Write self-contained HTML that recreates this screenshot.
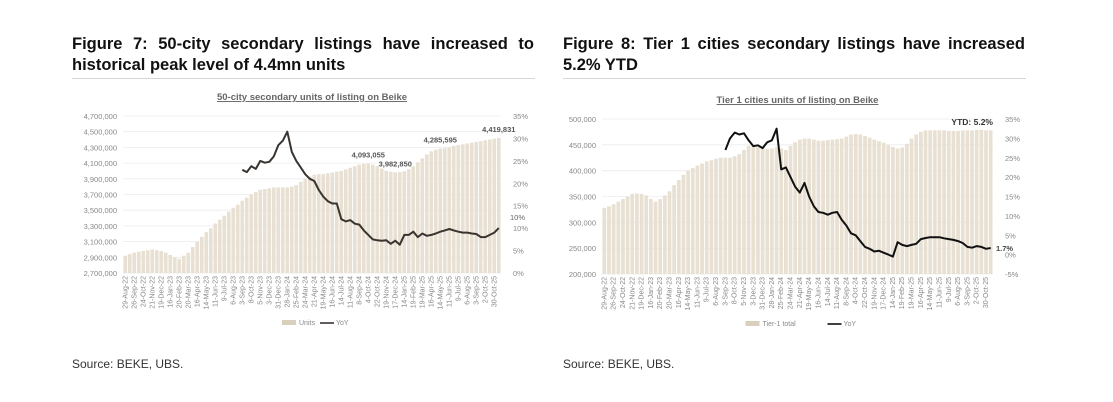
<!DOCTYPE html>
<html><head><meta charset="utf-8"><style>
body{margin:0;background:#fff;font-family:"Liberation Sans",sans-serif;}
#wrap{position:relative;width:1113px;height:402px;overflow:hidden;background:#fff}
.hd{position:absolute;top:34px;width:462px;font-weight:bold;font-size:16.5px;line-height:21px;color:#111;text-align:justify;text-align-last:left}
.rule{position:absolute;top:78px;width:463px;height:1px;background:#d6d6d6}
.src{position:absolute;top:357px;font-size:12px;color:#333}
svg{position:absolute;left:0;top:0}
</style></head><body>
<div id="wrap">
<div class="hd" style="left:72px">Figure 7: 50-city secondary listings have increased to historical peak level of 4.4mn units</div>
<div class="rule" style="left:72px"></div>
<div class="hd" style="left:563px">Figure 8: Tier 1 cities secondary listings have increased 5.2% YTD</div>
<div class="rule" style="left:563px"></div>
<div class="src" style="left:72px">Source: BEKE, UBS.</div>
<div class="src" style="left:563px">Source: BEKE, UBS.</div>
<svg id="svg" width="1113" height="402"></svg>
</div>
<script>
const dateLabels=["29-Aug-22","26-Sep-22","24-Oct-22","21-Nov-22","19-Dec-22","16-Jan-23","20-Feb-23","20-Mar-23","16-Apr-23","14-May-23","11-Jun-23","9-Jul-23","6-Aug-23","3-Sep-23","8-Oct-23","5-Nov-23","3-Dec-23","31-Dec-23","28-Jan-24","25-Feb-24","24-Mar-24","21-Apr-24","19-May-24","16-Jun-24","14-Jul-24","11-Aug-24","8-Sep-24","4-Oct-24","22-Oct-24","19-Nov-24","17-Dec-24","14-Jan-25","19-Feb-25","19-Mar-25","16-Apr-25","14-May-25","11-Jun-25","9-Jul-25","6-Aug-25","3-Sep-25","2-Oct-25","30-Oct-25"];
const units50=[2920,2940,2960,2970,2980,2990,3000,2990,2980,2960,2930,2900,2880,2920,2960,3030,3100,3160,3220,3270,3330,3380,3430,3480,3530,3570,3620,3660,3700,3730,3760,3770,3780,3790,3790,3790,3790,3800,3820,3860,3900,3930,3950,3960,3960,3970,3980,3990,4000,4020,4040,4060,4080,4090,4093,4080,4060,4030,4000,3990,3983,3985,3995,4020,4060,4110,4160,4210,4250,4270,4285,4290,4300,4320,4330,4340,4350,4360,4370,4380,4390,4400,4410,4420];
const yoy50=[23,22.5,23.8,23.2,25,24.6,24.8,26,28.5,29.5,31.5,27,25,23.5,22,21,20.5,18.5,17,16,15.5,15.5,12,11.5,11.8,11,10.8,9.5,8.5,7.5,7.3,7.2,7.3,6.5,7.2,6.3,8.5,8.5,9.2,8,8.8,8.3,8.5,8.8,9.2,9.5,9.8,9.5,9.2,9.0,9.0,8.8,8.7,8.0,8.0,8.5,9.0,10];
const unitsT1=[328,331,335,340,345,350,355,356,355,352,345,340,345,352,360,372,382,392,400,405,410,414,418,420,423,425,425,425,428,432,440,448,448,446,444,442,443,445,443,440,448,455,460,462,462,460,458,458,459,460,461,462,466,470,471,470,467,464,460,457,454,450,446,443,445,452,462,470,475,478,478,478,478,478,477,477,477,478,478,478,479,479,478,478];
const yoyT1=[27,30,31.5,31,31.3,29.5,28,28.2,27.5,29,29.5,32.5,22,22.5,20,17.5,16,18.5,15,12.5,11,10.8,10.3,10.8,11,9,7.5,5.5,5,3.5,2,1.5,0.8,1,0.5,0,-0.5,3.2,2.5,2.2,2.5,2.8,4,4.3,4.5,4.5,4.5,4.2,4,3.8,3.5,3,2,1.8,2.2,2,1.5,1.7];
const leftTicks50=["2,700,000","2,900,000","3,100,000","3,300,000","3,500,000","3,700,000","3,900,000","4,100,000","4,300,000","4,500,000","4,700,000"];
const leftTicksT1=["200,000","250,000","300,000","350,000","400,000","450,000","500,000"];
const rightTicks50=["0%","5%","10%","15%","20%","25%","30%","35%"];
const rightTicksT1=["-5%","0%","5%","10%","15%","20%","25%","30%","35%"];
const annot50=[[54,"4,093,055"],[60,"3,982,850"],[70,"4,285,595"],[83,"4,419,831"]];
const YOY_START=26;

const svg=document.getElementById('svg');
const NS='http://www.w3.org/2000/svg';
function mk(tag,attrs,parent,txt){const e=document.createElementNS(NS,tag);for(const k in attrs)e.setAttribute(k,attrs[k]);if(txt!==undefined)e.textContent=txt;(parent||svg).appendChild(e);return e;}

function chart(c){
  const g=mk('g',{});
  
  
  const n=c.units.length, step=(c.x1-c.x0)/n;
  const yL=v=>c.yb-(v-c.lmin)/(c.lmax-c.lmin)*(c.yb-c.yt);
  const yR=v=>c.yb-(v-c.rmin)/(c.rmax-c.rmin)*(c.yb-c.yt);
  const xi=i=>c.x0+(i+0.5)*step;
  const t=mk('text',{x:(c.x0+c.x1)/2,y:c.yt-16,'text-anchor':'middle','font-size':9.5,'font-weight':'bold',fill:'#666','text-decoration':'underline'},g,c.title);
  
  c.lt.forEach((s,k)=>{const v=c.lmin+k*(c.lmax-c.lmin)/(c.lt.length-1);const y=yL(v);
    const gl=mk('line',{x1:c.x0,x2:c.x1,y1:y,y2:y,stroke:'#ececec','stroke-width':0.8},g);
    
    const tx=mk('text',{x:c.x0-6,y:y+3,'text-anchor':'end','font-size':7.5,fill:'#888'},g,s);
    });
  c.rt.forEach((s,k)=>{const v=c.rmin+k*(c.rmax-c.rmin)/(c.rt.length-1);
    const tx=mk('text',{x:c.x1+12,y:yR(v)+3,'font-size':7.5,fill:'#888'},g,s);
    });
  c.units.forEach((v,i)=>{
    const b=mk('rect',{x:xi(i)-step*0.4,y:yL(v),width:step*0.8,height:c.yb-yL(v),fill:'#e8e0d2'},g);
    });
  dateLabels.forEach((s,k)=>{const x=xi(k*2)+2;
    const tx=mk('text',{x:0,y:0,transform:`translate(${x},${c.yb+3}) rotate(-90)`,'text-anchor':'end','font-size':7,fill:'#888'},g,s);
    });
  const pts=c.yoy.map((v,j)=>xi(YOY_START+j).toFixed(1)+','+yR(v).toFixed(1)).join(' ');
  const pl=mk('polyline',{points:pts,fill:'none',stroke:c.lineColor,'stroke-width':2,'stroke-linejoin':'round'},g);
  
  (c.annot||[]).forEach(a=>{const tx=mk('text',{x:xi(a[0]),y:yL(c.units[a[0]])-6,'text-anchor':'middle','font-size':7.5,'font-weight':'bold',fill:'#555'},g,a[1]);
    });
  const lx=(c.x0+c.x1)/2;
  const lr=mk('rect',{x:lx-c.legGap-22,y:c.legY-3,width:14,height:5,fill:'#d9cfbd'},g);
  
  const l1=mk('text',{x:lx-c.legGap-5,y:c.legY+2,'font-size':7,fill:'#888'},g,c.leg1);
  
  const ll=mk('line',{x1:lx+c.legGap2,x2:lx+c.legGap2+14,y1:c.legY,y2:c.legY,stroke:c.lineColor,'stroke-width':1.6},g);
  
  const l2=mk('text',{x:lx+c.legGap2+16,y:c.legY+2,'font-size':7,fill:'#888'},g,'YoY');
  
  return {g,yR,yL,xi};
}
const c1=chart({name:'chart-50-city',title:'50-city secondary units of listing on Beike',x0:123,x1:501,yt:116,yb:273,lmin:2700,lmax:4700,rmin:0,rmax:35,lt:leftTicks50,rt:rightTicks50,units:units50,yoy:yoy50,lineColor:'#3a3430',annot:annot50,legY:323,leg1:'Units',legGap:8,legGap2:8});
const e1=mk('text',{x:510,y:c1.yR(yoy50[yoy50.length-1])-8,'font-size':7.5,fill:'#666'},c1.g,'10%');

const c2=chart({name:'chart-tier-1',title:'Tier 1 cities  units of listing on Beike',x0:602,x1:993,yt:119,yb:274,lmin:200,lmax:500,rmin:-5,rmax:35,lt:leftTicksT1,rt:rightTicksT1,units:unitsT1,yoy:yoyT1,lineColor:'#111',legY:324,leg1:'Tier-1 total',legGap:30,legGap2:30});
const e2=mk('text',{x:996,y:c2.yR(yoyT1[yoyT1.length-1])+3,'font-size':7.5,'font-weight':'bold',fill:'#444'},c2.g,'1.7%');

const e3=mk('text',{x:993,y:125,'text-anchor':'end','font-size':8.5,'font-weight':'bold',fill:'#333'},c2.g,'YTD: 5.2%');

</script>
</body></html>
